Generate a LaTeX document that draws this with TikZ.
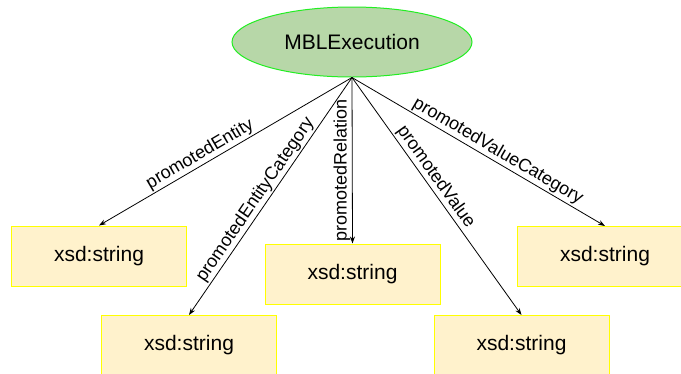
\documentclass[tikz,border=0pt]{standalone}
\usepackage{fontspec}
\setmainfont{Liberation Sans}
\usetikzlibrary{arrows.meta,shapes.geometric}
\definecolor{ellfill}{HTML}{B7D7A8}
\definecolor{ellline}{HTML}{22EE22}
\definecolor{boxfill}{HTML}{FFF2CC}
\definecolor{boxline}{HTML}{FFFF00}
\tikzset{
  cls/.style={ellipse, draw=ellline, fill=ellfill, line width=1pt, minimum width=240pt, minimum height=70pt, inner sep=0pt, font=\fontsize{21}{24}\selectfont},
  lit/.style={rectangle, draw=boxline, fill=boxfill, line width=1pt, minimum width=175pt, minimum height=60pt, inner sep=0pt, font=\fontsize{21}{24}\selectfont},
  rel/.style={draw=black, line width=0.8pt, -{Stealth[length=7pt,width=5pt]}},
  lbl/.style={sloped, above, inner sep=1.5pt, font=\fontsize{18}{20}\selectfont},
  vlbl/.style={rotate=90, anchor=south, inner sep=1.5pt, font=\fontsize{18}{20}\selectfont}
}
\begin{document}
\begin{tikzpicture}[x=1pt,y=-1pt]
\useasboundingbox (0,0) rectangle (681,373);
\clip (0,0) rectangle (681,373);
\fill[white] (0,0) rectangle (681,373);
\node[cls] (e) at (352,42) {MBLExecution};
\node[lit] (b1) at (99,256) {xsd:string};
\node[lit] (b2) at (189,345.5) {xsd:string};
\node[lit] (b3) at (352.5,274) {xsd:string};
\node[lit] (b4) at (521.5,345.5) {xsd:string};
\node[lit] (b5) at (605,256.5) {xsd:string};
\draw[rel] (e.south) -- node[lbl,pos=0.58] {promotedEntity} (b1.north);
\draw[rel] (e.south) -- node[lbl,pos=0.54] {promotedEntityCategory} (b2.north);
\draw[rel] (e.south) -- node[vlbl,pos=0.56] {promotedRelation} (b3.north);
\draw[rel] (e.south) -- node[lbl,pos=0.445] {promotedValue} (b4.north);
\draw[rel] (e.south) -- node[lbl,pos=0.556] {promotedValueCategory} (b5.north);
\end{tikzpicture}
\end{document}
